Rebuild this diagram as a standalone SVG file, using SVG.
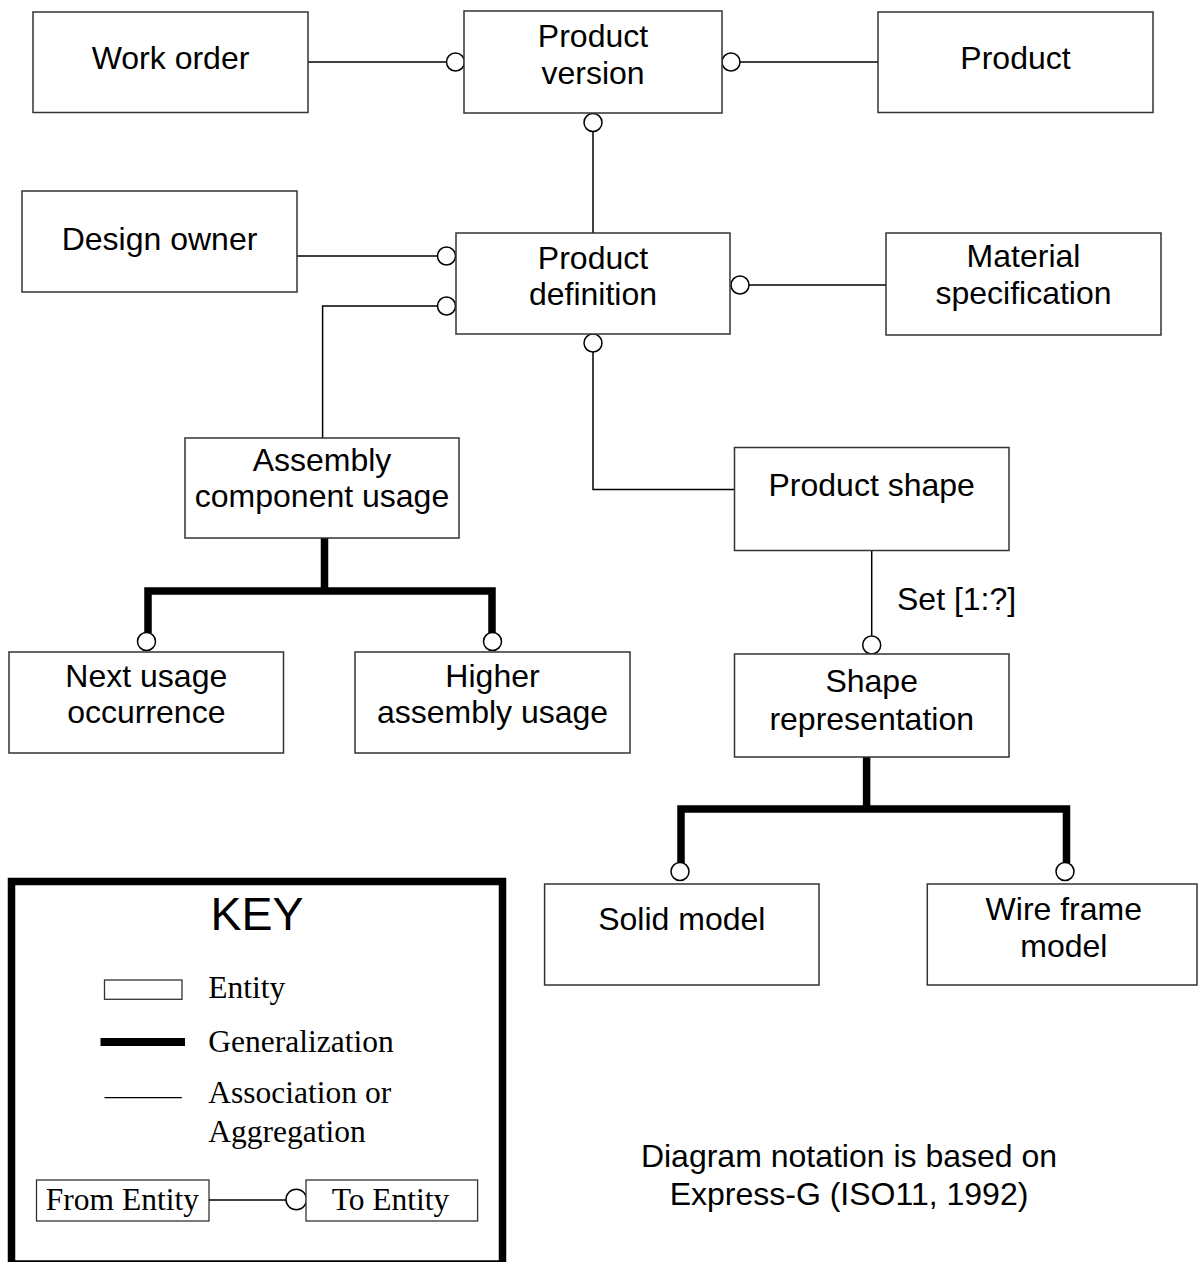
<svg xmlns="http://www.w3.org/2000/svg" width="1198" height="1262" viewBox="0 0 1198 1262">
  <style>
    .box { fill: #fff; stroke: #333; stroke-width: 1.5; }
    .lbl { font-family: "Liberation Sans", Arial, sans-serif; font-size: 32px; fill: #000; text-anchor: middle; }
    .assoc { fill: none; stroke: #000; stroke-width: 1.5; }
    .gen { fill: none; stroke: #000; stroke-width: 7.5; stroke-linejoin: miter; stroke-linecap: butt; }
    .end { fill: #fff; stroke: #000; stroke-width: 1.5; }
    .key { font-family: "Liberation Serif", "Times New Roman", serif; font-size: 31.5px; fill: #000; }
  </style>

  <!-- connectors -->
  <g id="connectors">
    <!-- associations -->
    <line class="assoc" x1="308" y1="62" x2="446.5" y2="62"/>
    <circle class="end" cx="455.5" cy="62" r="9"/>

    <line class="assoc" x1="740" y1="62" x2="878" y2="62"/>
    <circle class="end" cx="731" cy="62" r="9"/>

    <line class="assoc" x1="593" y1="131.5" x2="593" y2="233"/>
    <circle class="end" cx="593" cy="122.5" r="9"/>

    <line class="assoc" x1="297" y1="256" x2="437.5" y2="256"/>
    <circle class="end" cx="446.5" cy="256" r="9"/>

    <polyline class="assoc" points="322.6,438 322.6,306 437.5,306"/>
    <circle class="end" cx="446.5" cy="306" r="9"/>

    <line class="assoc" x1="749" y1="285" x2="886" y2="285"/>
    <circle class="end" cx="740" cy="285" r="9"/>

    <polyline class="assoc" points="734.5,489.5 593,489.5 593,352"/>
    <circle class="end" cx="593" cy="343" r="9"/>

    <line class="assoc" x1="871.7" y1="551" x2="871.7" y2="635.5"/>
    <circle class="end" cx="871.7" cy="645" r="9"/>
    <text class="lbl" x="897" y="610" style="text-anchor:start">Set [1:?]</text>

    <!-- generalizations -->
    <path class="gen" d="M324.5,538 V591 M148,633 V591 H492 V633"/>
    <circle class="end" cx="146.5" cy="641.5" r="9"/>
    <circle class="end" cx="492.5" cy="641.5" r="9"/>

    <path class="gen" d="M866.6,757 V809 M681,863 V809 H1066.5 V863"/>
    <circle class="end" cx="680" cy="871.5" r="9"/>
    <circle class="end" cx="1065" cy="871.5" r="9"/>
  </g>

  <!-- entities -->
  <g id="work-order">
    <rect class="box" x="33" y="12" width="275" height="100.5"/>
    <text class="lbl" x="170.5" y="68.5">Work order</text>
  </g>
  <g id="product-version">
    <rect class="box" x="464" y="11" width="258" height="102"/>
    <text class="lbl" x="593" y="47">Product</text>
    <text class="lbl" x="593" y="83.5">version</text>
  </g>
  <g id="product">
    <rect class="box" x="878" y="12" width="275" height="100.5"/>
    <text class="lbl" x="1015.5" y="68.5">Product</text>
  </g>
  <g id="design-owner">
    <rect class="box" x="22" y="191" width="275" height="101"/>
    <text class="lbl" x="159.5" y="250">Design owner</text>
  </g>
  <g id="product-definition">
    <rect class="box" x="456" y="233" width="274" height="101"/>
    <text class="lbl" x="593" y="268.5">Product</text>
    <text class="lbl" x="593" y="305">definition</text>
  </g>
  <g id="material-specification">
    <rect class="box" x="886" y="233" width="275" height="102"/>
    <text class="lbl" x="1023.5" y="267">Material</text>
    <text class="lbl" x="1023.5" y="303.5">specification</text>
  </g>
  <g id="assembly-component-usage">
    <rect class="box" x="185" y="438" width="274" height="100"/>
    <text class="lbl" x="322" y="471">Assembly</text>
    <text class="lbl" x="322" y="507">component usage</text>
  </g>
  <g id="product-shape">
    <rect class="box" x="734.5" y="447.5" width="274.5" height="103"/>
    <text class="lbl" x="871.7" y="496">Product shape</text>
  </g>
  <g id="next-usage-occurrence">
    <rect class="box" x="9" y="652" width="274.5" height="101"/>
    <text class="lbl" x="146.3" y="687">Next usage</text>
    <text class="lbl" x="146.3" y="723">occurrence</text>
  </g>
  <g id="higher-assembly-usage">
    <rect class="box" x="355" y="652" width="275" height="101"/>
    <text class="lbl" x="492.5" y="687">Higher</text>
    <text class="lbl" x="492.5" y="723">assembly usage</text>
  </g>
  <g id="shape-representation">
    <rect class="box" x="734.5" y="654" width="274.5" height="103"/>
    <text class="lbl" x="871.7" y="692">Shape</text>
    <text class="lbl" x="871.7" y="730">representation</text>
  </g>
  <g id="solid-model">
    <rect class="box" x="544.6" y="884" width="274.4" height="101"/>
    <text class="lbl" x="681.8" y="930">Solid model</text>
  </g>
  <g id="wire-frame-model">
    <rect class="box" x="927.3" y="884" width="269.7" height="101"/>
    <text class="lbl" x="1063.8" y="920">Wire frame</text>
    <text class="lbl" x="1063.8" y="957">model</text>
  </g>

  <!-- notation note -->
  <g id="note">
    <text class="lbl" x="849" y="1167">Diagram notation is based on</text>
    <text class="lbl" x="849" y="1205">Express-G (ISO11, 1992)</text>
  </g>

  <!-- legend -->
  <g id="legend">
    <rect x="11.5" y="881.5" width="491" height="382.5" fill="#fff" stroke="#000" stroke-width="7.5"/>
    <text x="257" y="930" style="font-family:'Liberation Sans', Arial, sans-serif; font-size:46.5px; text-anchor:middle">KEY</text>

    <rect x="104.5" y="980" width="77.5" height="19.3" fill="#fff" stroke="#333" stroke-width="1.3"/>
    <text class="key" x="208.3" y="997.7">Entity</text>

    <line x1="100.5" y1="1042" x2="185" y2="1042" stroke="#000" stroke-width="8"/>
    <text class="key" x="208.3" y="1051.7">Generalization</text>

    <line x1="104.5" y1="1097.7" x2="181.8" y2="1097.7" stroke="#000" stroke-width="1.3"/>
    <text class="key" x="208.3" y="1103.3">Association or</text>
    <text class="key" x="208.3" y="1141.7">Aggregation</text>

    <rect x="36.5" y="1180" width="172.5" height="41" fill="#fff" stroke="#333" stroke-width="1.3"/>
    <text class="key" x="45.8" y="1210">From Entity</text>
    <line x1="209" y1="1200" x2="286" y2="1200" stroke="#000" stroke-width="1.3"/>
    <circle cx="296.3" cy="1199.5" r="10.3" fill="#fff" stroke="#000" stroke-width="1.5"/>
    <rect x="306" y="1180" width="171.6" height="41" fill="#fff" stroke="#333" stroke-width="1.3"/>
    <text class="key" x="390.5" y="1210" style="text-anchor:middle">To Entity</text>
  </g>
</svg>
